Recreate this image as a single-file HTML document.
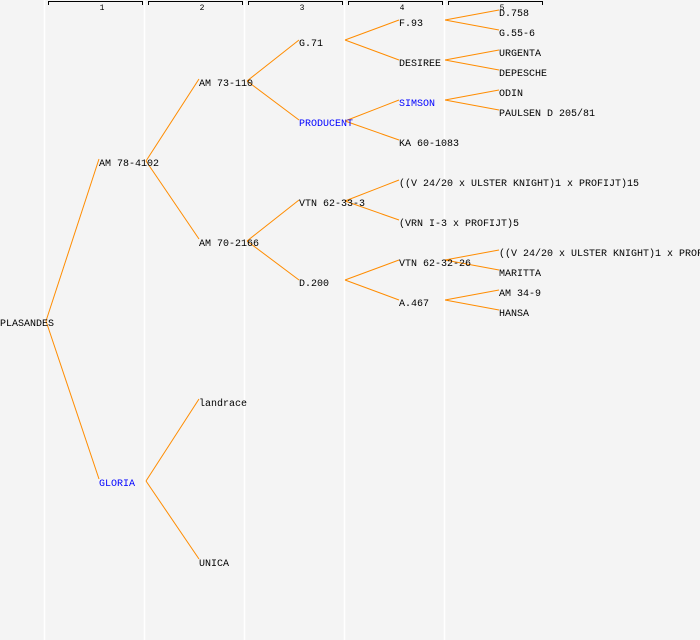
<!DOCTYPE html>
<html><head><meta charset="utf-8"><style>
html,body{margin:0;padding:0;background:#f4f4f4;}
svg{display:block;}
text{font-family:"Liberation Mono",monospace;font-size:10px;fill:#000;}
.b{fill:#0000ff;}
.h{font-size:8px;}
line.c{stroke:#ff8c00;stroke-width:1;}
</style></head><body>
<svg width="700" height="640" viewBox="0 0 700 640" xmlns="http://www.w3.org/2000/svg">
<rect width="700" height="640" fill="#f4f4f4"/>
<g stroke="#ffffff" stroke-width="1.5">
<line x1="44.5" y1="0" x2="44.5" y2="640"/><line x1="144.5" y1="0" x2="144.5" y2="640"/>
<line x1="244.5" y1="0" x2="244.5" y2="640"/><line x1="344.5" y1="0" x2="344.5" y2="640"/>
<line x1="444.5" y1="0" x2="444.5" y2="640"/>
</g>
<g stroke="#000" stroke-width="1" fill="none">
<path d="M48.5,5 V1.5 H142.5 V5"/><path d="M148.5,5 V1.5 H242.5 V5"/>
<path d="M248.5,5 V1.5 H342.5 V5"/><path d="M348.5,5 V1.5 H442.5 V5"/>
<path d="M448.5,5 V1.5 H542.5 V5"/>
</g>
<text class="h" x="102" y="10" text-anchor="middle">1</text>
<text class="h" x="202" y="10" text-anchor="middle">2</text>
<text class="h" x="302" y="10" text-anchor="middle">3</text>
<text class="h" x="402" y="10" text-anchor="middle">4</text>
<text class="h" x="502" y="10" text-anchor="middle">5</text>
<g class="lines">
<line class="c" x1="46" y1="321" x2="99" y2="159"/>
<line class="c" x1="46" y1="321" x2="99" y2="479"/>
<line class="c" x1="146" y1="161" x2="199" y2="79"/>
<line class="c" x1="146" y1="161" x2="199" y2="239"/>
<line class="c" x1="146" y1="481" x2="199" y2="399"/>
<line class="c" x1="146" y1="481" x2="199" y2="559"/>
<line class="c" x1="247" y1="81" x2="299" y2="40"/>
<line class="c" x1="247" y1="81" x2="299" y2="120"/>
<line class="c" x1="247" y1="241" x2="299" y2="200"/>
<line class="c" x1="247" y1="241" x2="299" y2="280"/>
<line class="c" x1="345" y1="40" x2="399" y2="20"/>
<line class="c" x1="345" y1="40" x2="399" y2="60"/>
<line class="c" x1="345" y1="121" x2="399" y2="100"/>
<line class="c" x1="345" y1="121" x2="399" y2="140"/>
<line class="c" x1="345" y1="201" x2="399" y2="180"/>
<line class="c" x1="345" y1="201" x2="399" y2="220"/>
<line class="c" x1="345" y1="280" x2="399" y2="260"/>
<line class="c" x1="345" y1="280" x2="399" y2="300"/>
<line class="c" x1="445" y1="20" x2="499" y2="10"/>
<line class="c" x1="445" y1="20" x2="499" y2="30"/>
<line class="c" x1="445" y1="60" x2="499" y2="50"/>
<line class="c" x1="445" y1="60" x2="499" y2="70"/>
<line class="c" x1="445" y1="100" x2="499" y2="90"/>
<line class="c" x1="445" y1="100" x2="499" y2="110"/>
<line class="c" x1="445" y1="260" x2="499" y2="250"/>
<line class="c" x1="445" y1="260" x2="499" y2="270"/>
<line class="c" x1="445" y1="300" x2="499" y2="290"/>
<line class="c" x1="445" y1="300" x2="499" y2="310"/>
</g>
<text x="0" y="326">PLASANDES</text>
<text x="99" y="166">AM 78-4102</text>
<text x="99" y="486" class="b">GLORIA</text>
<text x="199" y="86">AM 73-110</text>
<text x="199" y="246">AM 70-2166</text>
<text x="199" y="406">landrace</text>
<text x="199" y="566">UNICA</text>
<text x="299" y="46">G.71</text>
<text x="299" y="126" class="b">PRODUCENT</text>
<text x="299" y="206">VTN 62-33-3</text>
<text x="299" y="286">D.200</text>
<text x="399" y="26">F.93</text>
<text x="399" y="66">DESIREE</text>
<text x="399" y="106" class="b">SIMSON</text>
<text x="399" y="146">KA 60-1083</text>
<text x="399" y="186">((V 24/20 x ULSTER KNIGHT)1 x PROFIJT)15</text>
<text x="399" y="226">(VRN I-3 x PROFIJT)5</text>
<text x="399" y="266">VTN 62-32-26</text>
<text x="399" y="306">A.467</text>
<text x="499" y="16">D.758</text>
<text x="499" y="36">G.55-6</text>
<text x="499" y="56">URGENTA</text>
<text x="499" y="76">DEPESCHE</text>
<text x="499" y="96">ODIN</text>
<text x="499" y="116">PAULSEN D 205/81</text>
<text x="499" y="256">((V 24/20 x ULSTER KNIGHT)1 x PROFIJT)15</text>
<text x="499" y="276">MARITTA</text>
<text x="499" y="296">AM 34-9</text>
<text x="499" y="316">HANSA</text>
</svg>
</body></html>
